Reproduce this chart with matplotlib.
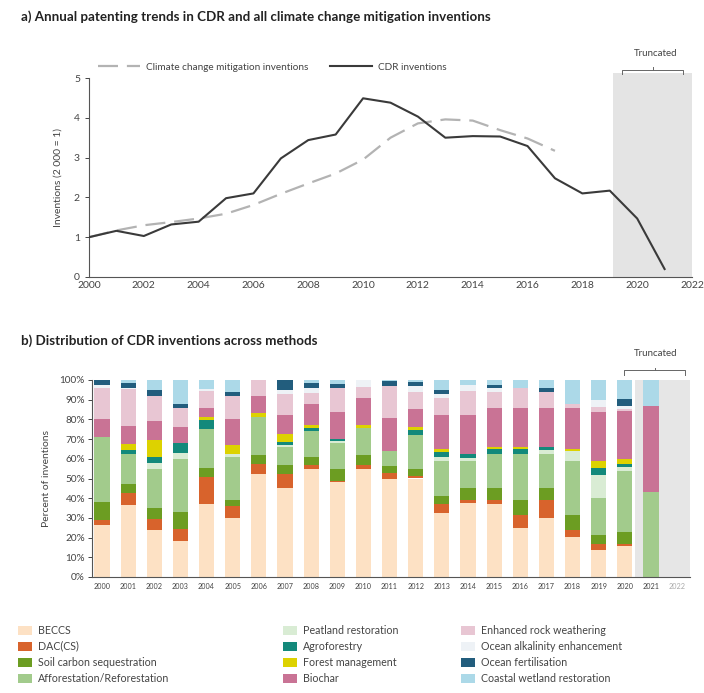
import matplotlib
matplotlib.use("Agg")
import matplotlib.pyplot as plt
from matplotlib.patches import Rectangle
from matplotlib.lines import Line2D
import numpy as np

plt.rcParams['font.family'] = ['Lato', 'DejaVu Sans']

# ---------------- Data: panel a ----------------
years_a = list(range(2000, 2022))
cdr = [1.0, 1.16, 1.03, 1.32, 1.39, 1.98, 2.1, 2.98, 3.44, 3.58, 4.49, 4.38, 4.03,
       3.5, 3.54, 3.53, 3.29, 2.48, 2.1, 2.17, 1.47, 0.2]
years_ccm = list(range(2000, 2018))
ccm = [1.0, 1.17, 1.3, 1.38, 1.47, 1.59, 1.81, 2.09, 2.35, 2.6, 2.95, 3.5, 3.86,
       3.96, 3.93, 3.69, 3.48, 3.17]

# ---------------- Data: panel b ----------------
years_b = [str(y) for y in range(2000, 2023)]
categories = ["BECCS", "DAC(CS)", "Soil carbon sequestration", "Afforestation/Reforestation",
              "Peatland restoration", "Agroforestry", "Forest management", "Biochar",
              "Enhanced rock weathering", "Ocean alkalinity enhancement", "Ocean fertilisation",
              "Coastal wetland restoration"]
beccs   = [26.5, 36.5, 24, 18.5, 37, 30, 52.5, 45, 55, 48, 55, 49.5, 50, 32.5, 37.5, 37, 25, 30, 20.5, 13.5, 15.5, 0, 0]
dac     = [2.5, 6, 5.5, 6, 14, 6, 5, 7.5, 2, 0.5, 2, 3.5, 1.5, 4.5, 1.5, 2, 6.5, 9, 3.5, 3.5, 1.5, 0, 0]
soil    = [9, 4.5, 5.5, 8.5, 4.5, 3, 4.5, 4.5, 4, 6.5, 5, 3.5, 3.5, 4, 6, 6, 7.5, 6, 7.5, 4.5, 6, 0, 0]
affor   = [33, 15.5, 20, 27, 19.5, 22, 19, 9, 13, 13, 13.5, 7.5, 17, 18, 14, 17.5, 23.5, 17.5, 27.5, 18.5, 31, 43, 0]
peat    = [0, 0, 3, 3, 0, 1.5, 0, 1, 0, 1, 0, 0, 0, 2, 1.5, 0, 0, 2, 5, 12, 2, 0, 0]
agro    = [0, 2, 3, 5, 4.5, 0, 0, 1.5, 1.5, 1, 0, 0, 2.5, 2.5, 2, 2.5, 2.5, 1.5, 0, 3.5, 1.5, 0, 0]
forest  = [0, 3, 8.5, 0, 1.5, 4.5, 2, 4, 1.5, 0, 1.5, 0, 1.5, 1.5, 0, 1, 1, 0, 1, 3.5, 2.5, 0, 0]
biochar = [9, 9, 9.5, 8, 5, 13, 9, 9.5, 11, 14, 14, 16.5, 9.5, 17, 19.5, 20, 20, 20, 21, 25, 24.5, 44, 0]
erw     = [16, 19, 13, 10, 8.5, 12, 8, 11, 5.5, 12, 5.5, 16.5, 8.5, 9, 12.5, 8, 10, 8, 2, 2.5, 1, 0, 0]
oae     = [1.5, 0.5, 0, 0, 1, 0, 0, 2, 2.5, 0, 3.5, 0, 3, 2, 3, 2, 0, 0, 0, 3.5, 1.5, 0, 0]
oceanf  = [2.5, 2.5, 3, 2, 0, 2, 0, 5, 2.5, 2, 0, 2.5, 2, 2, 0, 1.5, 0, 2, 0, 0, 3.5, 0, 0]
coastal = [0, 1.5, 5, 12, 4.5, 6, 0, 0, 1.5, 2, 0, 0.5, 1, 5, 2.5, 2.5, 4, 4, 12, 10, 9.5, 13, 0]
series = [beccs, dac, soil, affor, peat, agro, forest, biochar, erw, oae, oceanf, coastal]
colors = ["#fde1c4", "#d8632c", "#6c9d22", "#a2cb8c", "#d9ecd4", "#13897b", "#ddd200",
          "#c97395", "#e8c6d3", "#eef2f6", "#225d7d", "#acd9e8"]

fig = plt.figure(figsize=(7.04, 6.93), dpi=100)
W, H = 704, 693

def ax_rect(x0, y0, x1, y1):
    return [x0 / W, 1 - y1 / H, (x1 - x0) / W, (y1 - y0) / H]

def bracket(x0, x1, y):
    xm = (x0 + x1) / 2
    fig.lines.append(Line2D([x0 / W, x0 / W, x1 / W, x1 / W],
                            [1 - (y + 4.5) / H, 1 - y / H, 1 - y / H, 1 - (y + 4.5) / H],
                            color='#666666', lw=0.7, transform=fig.transFigure, figure=fig))
    fig.lines.append(Line2D([xm / W, xm / W], [1 - y / H, 1 - (y - 2.5) / H],
                            color='#666666', lw=0.7, transform=fig.transFigure, figure=fig))

# ---------------- Panel a ----------------
fig.text(21 / W, 1 - 17 / H, "a) Annual patenting trends in CDR and all climate change mitigation inventions",
         fontsize=9.6, fontweight='bold', va='center', ha='left', color='#222222')
ax1 = fig.add_axes(ax_rect(89, 78, 692, 277))
ax1.add_patch(Rectangle((2019.1, 0), 2.9, 5.12, facecolor='#e4e4e4', edgecolor='none',
                        clip_on=False, zorder=0))
ax1.plot(years_ccm, ccm, color='#b3b3b3', lw=1.6, dashes=(9, 4), label="Climate change mitigation inventions", zorder=2)
ax1.plot(years_a, cdr, color='#3a3a3a', lw=1.5, label="CDR inventions", zorder=3)
ax1.set_xlim(2000, 2022)
ax1.set_ylim(0, 5)
ax1.set_xticks(range(2000, 2023, 2))
ax1.set_yticks(range(0, 6))
for s in ['top', 'right']:
    ax1.spines[s].set_visible(False)
for s in ['left', 'bottom']:
    ax1.spines[s].set_color('#555555')
    ax1.spines[s].set_linewidth(0.8)
ax1.tick_params(axis='both', labelsize=7.5, colors='#444444', length=3, width=0.7)
ax1.tick_params(axis='x', length=0, pad=3)
ax1.set_ylabel("Inventions (2 000 = 1)", fontsize=7.5, color='#444444', labelpad=8)
ax1.legend(loc='center left', bbox_to_anchor=(0.0, 1.055), ncol=2, frameon=False,
           fontsize=7.2, handlelength=4.2, columnspacing=2.2, handletextpad=0.6,
           labelcolor='#444444')
bracket(622, 683, 69.5)
fig.text(656 / W, 1 - 54 / H, "Truncated", fontsize=7, ha='center', va='center', color='#444444')

# ---------------- Panel b ----------------
fig.text(21 / W, 1 - 341 / H, "b) Distribution of CDR inventions across methods",
         fontsize=9.6, fontweight='bold', va='center', ha='left', color='#222222')
ax2 = fig.add_axes(ax_rect(92, 380, 690, 577))
x = np.arange(len(years_b))
ax2.add_patch(Rectangle((20.4, 0), 2.1, 100, facecolor='#e6e6e6', edgecolor='none', zorder=0))
bottom = np.zeros(len(years_b))
for vals, col, lab in zip(series, colors, categories):
    v = np.array(vals, dtype=float)
    ax2.bar(x, v, bottom=bottom, width=0.58, color=col, edgecolor='none', label=lab, zorder=2)
    bottom += v
ax2.set_xlim(-0.38, 22.49)
ax2.set_ylim(0, 100)
ax2.set_xticks(x)
ax2.set_xticklabels(years_b)
ax2.set_yticks(range(0, 101, 10))
ax2.set_yticklabels([f"{v}%" for v in range(0, 101, 10)])
for s in ['top', 'right']:
    ax2.spines[s].set_visible(False)
for s in ['left', 'bottom']:
    ax2.spines[s].set_color('#555555')
    ax2.spines[s].set_linewidth(0.8)
ax2.tick_params(axis='y', labelsize=7.2, colors='#444444', length=3, width=0.7, pad=2)
ax2.tick_params(axis='x', labelsize=5.2, colors='#444444', length=0, pad=4)
ax2.get_xticklabels()[-1].set_color('#aaaaaa')
ax2.set_ylabel("Percent of inventions", fontsize=7.5, color='#444444', labelpad=6)
bracket(624, 685, 370)
fig.text(656 / W, 1 - 354 / H, "Truncated", fontsize=7, ha='center', va='center', color='#444444')

# Bottom legend (3 columns x 4 rows)
col_x = [18, 283, 461]
row_y = [630, 646, 662, 678]
for i, (lab, col) in enumerate(zip(categories, colors)):
    c, r = divmod(i, 4)
    px, py = col_x[c], row_y[r]
    fig.patches.append(Rectangle((px / W, 1 - (py + 4.5) / H), 14 / W, 9 / H, facecolor=col,
                                 edgecolor='none', transform=fig.transFigure, figure=fig))
    fig.text((px + 20) / W, 1 - py / H, lab, fontsize=7.7, va='center', ha='left', color='#444444')

fig.savefig("out.png", dpi=100, facecolor='white')
